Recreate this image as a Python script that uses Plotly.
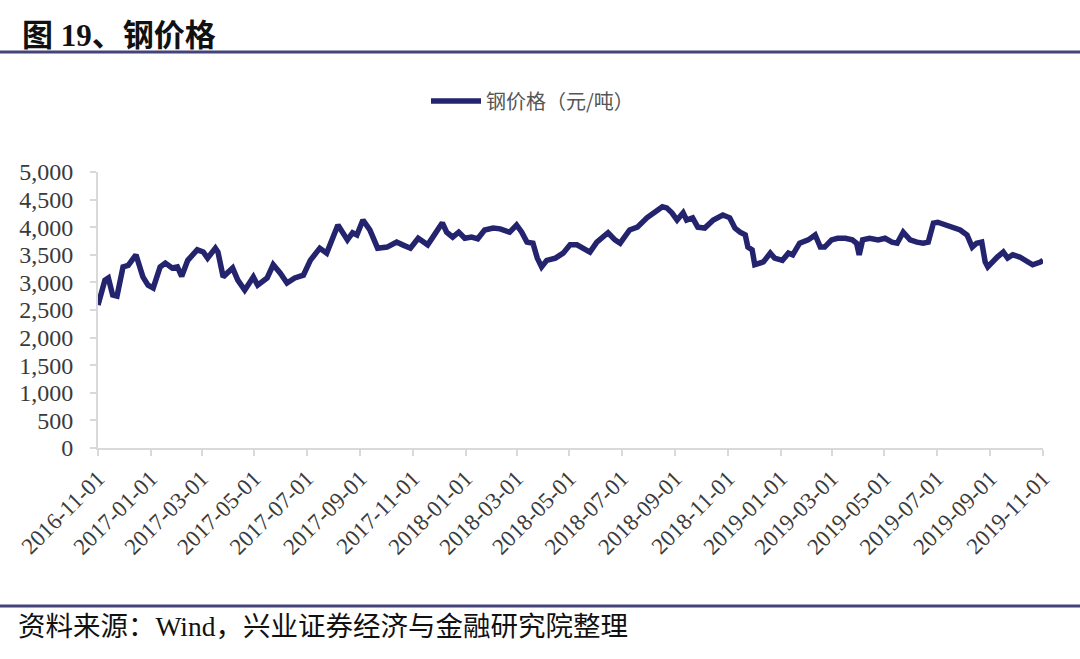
import plotly.graph_objects as go

# ---- data ----
dates = [
    "2016-11-01", "2016-11-09", "2016-11-13", "2016-11-18", "2016-11-23", "2016-11-26", "2016-11-30",
    "2016-12-06", "2016-12-12", "2016-12-15", "2016-12-23", "2016-12-29", "2017-01-04", "2017-01-12",
    "2017-01-18", "2017-01-26", "2017-02-01", "2017-02-06", "2017-02-13", "2017-02-24", "2017-03-03",
    "2017-03-08", "2017-03-17", "2017-03-20", "2017-03-26", "2017-04-06", "2017-04-12", "2017-04-20",
    "2017-04-30", "2017-05-05", "2017-05-16", "2017-05-23", "2017-05-31", "2017-06-08", "2017-06-17",
    "2017-06-27", "2017-07-05", "2017-07-16", "2017-07-24", "2017-08-06", "2017-08-17", "2017-08-23",
    "2017-08-28", "2017-09-04", "2017-09-12", "2017-09-21", "2017-10-02", "2017-10-13", "2017-10-20",
    "2017-10-29", "2017-11-07", "2017-11-18", "2017-11-24", "2017-12-05", "2017-12-10", "2017-12-17",
    "2017-12-24", "2017-12-31", "2018-01-08", "2018-01-15", "2018-01-23", "2018-02-02", "2018-02-10",
    "2018-02-21", "2018-03-01", "2018-03-07", "2018-03-13", "2018-03-20", "2018-03-25", "2018-03-30",
    "2018-04-05", "2018-04-15", "2018-04-24", "2018-05-02", "2018-05-10", "2018-05-16", "2018-05-25",
    "2018-06-02", "2018-06-08", "2018-06-15", "2018-06-23", "2018-06-29", "2018-07-10", "2018-07-19",
    "2018-07-30", "2018-08-06", "2018-08-17", "2018-08-22", "2018-08-28", "2018-09-03", "2018-09-10",
    "2018-09-14", "2018-09-21", "2018-09-27", "2018-10-05", "2018-10-15", "2018-10-26", "2018-11-03",
    "2018-11-09", "2018-11-15", "2018-11-21", "2018-11-24", "2018-11-29", "2018-12-02", "2018-12-06",
    "2018-12-12", "2018-12-20", "2018-12-25", "2019-01-03", "2019-01-10", "2019-01-15", "2019-01-23",
    "2019-02-02", "2019-02-10", "2019-02-16", "2019-02-21", "2019-03-01", "2019-03-08", "2019-03-17",
    "2019-03-25", "2019-03-30", "2019-04-02", "2019-04-06", "2019-04-14", "2019-04-24", "2019-05-02",
    "2019-05-10", "2019-05-16", "2019-05-23", "2019-05-31", "2019-06-08", "2019-06-15", "2019-06-21",
    "2019-06-27", "2019-07-02", "2019-07-10", "2019-07-19", "2019-07-28", "2019-08-05", "2019-08-11",
    "2019-08-16", "2019-08-22", "2019-08-26", "2019-08-29", "2019-09-09", "2019-09-16", "2019-09-21",
    "2019-09-27", "2019-10-05", "2019-10-15", "2019-10-20", "2019-10-29", "2019-11-01",
]
steel_price = [
    2590, 3040, 3080, 2770, 2750, 3040, 3280,
    3310, 3460, 3500, 3100, 2950, 2900, 3280,
    3350, 3260, 3280, 3110, 3400, 3590, 3550,
    3440, 3620, 3550, 3100, 3260, 3040, 2860,
    3100, 2950, 3080, 3320, 3170, 2990, 3080,
    3130, 3400, 3620, 3530, 4040, 3770, 3900,
    3860, 4130, 3950, 3620, 3640, 3730, 3680,
    3620, 3800, 3680, 3820, 4080, 3910, 3820,
    3910, 3800, 3820, 3790, 3950, 3985, 3970,
    3910, 4040, 3910, 3730, 3710, 3440, 3280,
    3400, 3440, 3530, 3680, 3680, 3620, 3550,
    3730, 3800, 3900, 3770, 3710, 3950, 4000,
    4170, 4260, 4370, 4350, 4260, 4130, 4260,
    4130, 4170, 4000, 3985, 4130, 4220, 4170,
    3985, 3910, 3860, 3640, 3590, 3320, 3350,
    3370, 3530, 3440, 3400, 3530, 3500, 3710,
    3770, 3860, 3640, 3640, 3770, 3800, 3800,
    3770, 3710, 3500, 3770, 3800, 3770, 3800,
    3730, 3710, 3910, 3770, 3730, 3710, 3730,
    4075, 4090, 4040, 4000, 3950, 3860, 3640,
    3710, 3730, 3370, 3280, 3460, 3550, 3440,
    3500, 3460, 3370, 3320, 3370, 3400,
]
x_tick_labels = [
    "2016-11-01", "2017-01-01", "2017-03-01", "2017-05-01", "2017-07-01", "2017-09-01",
    "2017-11-01", "2018-01-01", "2018-03-01", "2018-05-01", "2018-07-01", "2018-09-01",
    "2018-11-01", "2019-01-01", "2019-03-01", "2019-05-01", "2019-07-01", "2019-09-01",
    "2019-11-01",
]
y_tick_values = [0, 500, 1000, 1500, 2000, 2500, 3000, 3500, 4000, 4500, 5000]
series_name = "钢价格（元/吨）"
title_text = "图 19、钢价格"
source_text = "资料来源：Wind，兴业证券经济与金融研究院整理"

# ---- layout geometry (pixels) ----
W, H = 1080, 659
L, R, T, B = 98, 37, 172, 211
PW, PH = W - L - R, H - T - B


def px_x(p):
    return (p - L) / PW


def px_y(p):
    return (H - B - p) / PH


line_color = "#23236e"
rule_color = "#45437a"
axis_color = "#d9d9d9"
serif_cjk = "Liberation Serif, Noto Sans CJK SC, serif"

fig = go.Figure()
fig.add_trace(go.Scatter(
    x=dates, y=steel_price, mode="lines", name=series_name,
    line=dict(color=line_color, width=5.5),
))

fig.update_layout(
    width=W, height=H, autosize=False,
    margin=dict(l=L, r=R, t=T, b=B, pad=0),
    paper_bgcolor="white", plot_bgcolor="white",
    showlegend=True,
    legend=dict(
        x=px_x(426), y=px_y(101), xanchor="left", yanchor="middle",
        orientation="h", bgcolor="rgba(0,0,0,0)", itemwidth=50,
        font=dict(family="Noto Sans CJK SC", size=20, color="#555555"),
    ),
    xaxis=dict(
        type="date",
        range=["2016-11-01", "2019-11-01"],
        tickmode="array", tickvals=x_tick_labels, ticktext=x_tick_labels,
        tickangle=-45,
        showline=True, linecolor=axis_color, linewidth=2,
        ticks="outside", ticklen=6, tickcolor=axis_color, tickwidth=1.5,
        showgrid=False, zeroline=False,
        tickfont=dict(family="Liberation Serif", size=23, color="#3a3a3a"),
    ),
    yaxis=dict(
        range=[0, 5000],
        tickmode="array", tickvals=y_tick_values,
        ticktext=[f"{v:,}" for v in y_tick_values],
        showline=True, linecolor=axis_color, linewidth=2,
        ticks="outside", ticklen=6, tickcolor=axis_color, tickwidth=1.5,
        ticklabelstandoff=12,
        showgrid=False, zeroline=False,
        tickfont=dict(family="Liberation Serif", size=24, color="#3a3a3a"),
    ),
    shapes=[
        dict(type="line", xref="paper", yref="paper",
             x0=px_x(0), x1=px_x(W), y0=px_y(52), y1=px_y(52),
             line=dict(color=rule_color, width=3)),
        dict(type="line", xref="paper", yref="paper",
             x0=px_x(0), x1=px_x(W), y0=px_y(606), y1=px_y(606),
             line=dict(color=rule_color, width=3)),
    ],
    annotations=[
        dict(text=f"<b>{title_text}</b>", xref="paper", yref="paper",
             x=px_x(20), y=px_y(35), xanchor="left", yanchor="middle",
             showarrow=False,
             font=dict(family=serif_cjk, size=31, color="#111111")),
        dict(text=source_text, xref="paper", yref="paper",
             x=px_x(16), y=px_y(626), xanchor="left", yanchor="middle",
             showarrow=False,
             font=dict(family=serif_cjk, size=27.5, color="#111111")),
    ],
)

fig.write_html("out.html")
